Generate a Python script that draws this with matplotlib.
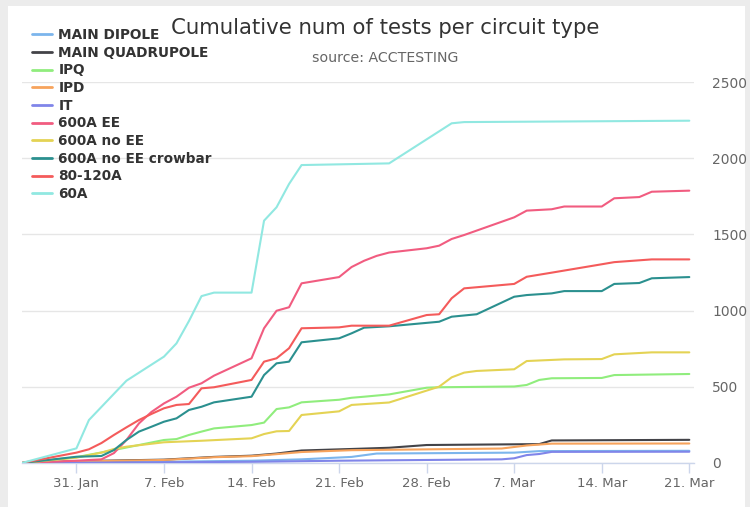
import matplotlib
matplotlib.use("Agg")
import matplotlib.pyplot as plt
import matplotlib.dates as mdates
from matplotlib.ticker import FuncFormatter, FixedLocator
import pandas as pd
import numpy as np

W, H = 750, 507
YEAR = "2022-"

title = "Cumulative num of tests per circuit type"
subtitle = "source: ACCTESTING"

names = ["MAIN DIPOLE", "MAIN QUADRUPOLE", "IPQ", "IPD", "IT", "600A EE",
         "600A no EE", "600A no EE crowbar", "80-120A", "60A"]
colors = ['#7cb5ec', '#434348', '#90ed7d', '#f7a35c', '#8085e9', '#f15c80',
          '#e4d354', '#2b908f', '#f45b5b', '#91e8e1']

md_dates = ["01-26 15:00", "02-07", "02-14", "02-18", "02-22", "02-24", "03-07", "03-09", "03-21"]
md_vals = [0, 8, 15, 24, 40, 62, 68, 78, 80]

mq_dates = ["01-26 15:00", "01-31", "02-07", "02-11", "02-14", "02-16", "02-18", "02-22", "02-25",
            "02-28", "03-09", "03-10", "03-21"]
mq_vals = [0, 12, 22, 40, 48, 62, 82, 92, 100, 118, 124, 148, 152]

ipd_dates = ["01-26 15:00", "01-31", "02-07", "02-11", "02-14", "02-16", "02-18", "02-22", "03-06",
             "03-08", "03-10", "03-21"]
ipd_vals = [0, 10, 20, 38, 45, 58, 72, 84, 95, 115, 127, 128]

it_dates = ["01-26 15:00", "02-14", "02-21", "03-06", "03-07", "03-08", "03-09", "03-10", "03-21"]
it_vals = [0, 8, 15, 24, 31, 52, 59, 73, 74]

ipq_dates = ["01-26 15:00", "01-31", "02-03", "02-07", "02-08", "02-09", "02-10", "02-11", "02-14",
             "02-15", "02-16", "02-17", "02-18", "02-21", "02-22", "02-23", "02-25", "02-28",
             "03-01", "03-07", "03-08", "03-09", "03-10", "03-14", "03-15", "03-21"]
ipq_vals = [0, 38, 85, 151, 157, 184, 206, 227, 249, 265, 354, 365, 398, 415, 428, 435, 450, 494,
            497, 502, 512, 545, 556, 558, 577, 584]

ee_dates = ["01-26 15:00", "01-31", "02-02", "02-03", "02-04", "02-05", "02-06", "02-07", "02-08",
            "02-09", "02-10", "02-11", "02-14", "02-15", "02-16", "02-17", "02-18", "02-21",
            "02-22", "02-23", "02-24", "02-25", "02-28", "03-01", "03-02", "03-03", "03-07",
            "03-08", "03-10", "03-11", "03-14", "03-15", "03-17", "03-18", "03-21"]
ee_vals = [0, 15, 24, 65, 151, 260, 335, 391, 435, 494, 523, 573, 687, 884, 999, 1022, 1179, 1220,
           1286, 1327, 1359, 1381, 1409, 1426, 1470, 1496, 1612, 1656, 1665, 1683, 1683, 1737,
           1745, 1780, 1787]

noee_dates = ["01-26 15:00", "01-31", "02-02", "02-03", "02-04", "02-07", "02-10", "02-14", "02-15",
              "02-16", "02-17", "02-18", "02-21", "02-22", "02-25", "03-01", "03-02", "03-03",
              "03-04", "03-07", "03-08", "03-11", "03-14", "03-15", "03-18", "03-21"]
noee_vals = [0, 35, 68, 92, 107, 136, 146, 162, 190, 208, 210, 315, 339, 381, 397, 501, 562, 593,
             604, 615, 669, 680, 682, 713, 726, 726]

crow_dates = ["01-26 15:00", "01-31", "02-02", "02-03", "02-04", "02-05", "02-06", "02-07", "02-08",
              "02-09", "02-10", "02-11", "02-14", "02-15", "02-16", "02-17", "02-18", "02-21",
              "02-22", "02-23", "02-25", "03-01", "03-02", "03-04", "03-07", "03-08", "03-10",
              "03-11", "03-14", "03-15", "03-17", "03-18", "03-21"]
crow_vals = [0, 41, 46, 85, 151, 206, 238, 271, 293, 348, 369, 398, 435, 577, 654, 665, 792, 818,
             851, 888, 897, 927, 960, 976, 1091, 1102, 1113, 1128, 1128, 1175, 1181, 1212, 1220]

a80_dates = ["01-26 15:00", "01-31", "02-01", "02-02", "02-03", "02-04", "02-05", "02-06", "02-07",
             "02-08", "02-09", "02-10", "02-11", "02-14", "02-15", "02-16", "02-17", "02-18",
             "02-21", "02-22", "02-25", "02-28", "03-01", "03-02", "03-03", "03-07", "03-08",
             "03-10", "03-14", "03-15", "03-18", "03-21"]
a80_vals = [0, 68, 90, 131, 184, 234, 282, 322, 359, 381, 387, 490, 497, 545, 665, 687, 753, 884,
            890, 901, 901, 971, 976, 1081, 1146, 1175, 1222, 1249, 1304, 1318, 1336, 1336]

a60_dates = ["01-26 15:00", "01-31", "02-01", "02-04", "02-07", "02-08", "02-09", "02-10", "02-11",
             "02-14", "02-15", "02-16", "02-17", "02-18", "02-25", "03-02", "03-03", "03-21"]
a60_vals = [0, 96, 282, 540, 698, 785, 932, 1095, 1118, 1118, 1590, 1678, 1831, 1955, 1966, 2229,
            2237, 2246]

series_dates = [md_dates, mq_dates, ipq_dates, ipd_dates, it_dates, ee_dates, noee_dates,
                crow_dates, a80_dates, a60_dates]
series_vals = [md_vals, mq_vals, ipq_vals, ipd_vals, it_vals, ee_vals, noee_vals, crow_vals,
               a80_vals, a60_vals]

x_ticks = ["01-31", "02-07", "02-14", "02-21", "02-28", "03-07", "03-14", "03-21"]
y_ticks = [0, 500, 1000, 1500, 2000, 2500]


def to_dt(lst):
    return pd.to_datetime([YEAR + s for s in lst], format='mixed')


fig = plt.figure(figsize=(W / 100, H / 100), dpi=100)
fig.patch.set_facecolor('#ececec')
card = plt.Rectangle((8 / W, 0), (745 - 8) / W, 1 - 6 / H, transform=fig.transFigure,
                     facecolor='white', edgecolor='none', zorder=-10)
fig.add_artist(card)

L, R, T, B = 21.7, 694, 82, 463
ax = fig.add_axes([L / W, 1 - B / H, (R - L) / W, (B - T) / H], zorder=5)
ax.set_facecolor('none')

for n, c, d, v in zip(names, colors, series_dates, series_vals):
    ax.plot(to_dt(d), v, color=c, lw=1.5, label=n, solid_joinstyle='round',
            solid_capstyle='round', zorder=3)

ax.set_ylim(0, 2500)
x0 = pd.Timestamp(YEAR + "01-26 15:00")
x1 = pd.Timestamp(YEAR + "03-21 09:00")
ax.set_xlim(x0, x1)

ax.yaxis.set_major_locator(FixedLocator(y_ticks))
ax.xaxis.set_major_locator(FixedLocator(mdates.date2num(to_dt(x_ticks))))
ax.xaxis.set_major_formatter(FuncFormatter(
    lambda x, p: f"{mdates.num2date(x).day}. {mdates.num2date(x).strftime('%b')}"))

ax.grid(axis='y', color='#e6e6e6', lw=1, zorder=0)
ax.grid(axis='x', visible=False)
for s in ['top', 'left', 'right']:
    ax.spines[s].set_visible(False)
ax.spines['bottom'].set_color('#ccd6eb')
ax.spines['bottom'].set_linewidth(1)

ax.yaxis.tick_right()
ax.tick_params(axis='y', which='both', length=0, pad=13, labelsize=10, labelcolor='#666666')
ax.tick_params(axis='x', length=7, width=1, color='#ccd6eb', pad=3, labelsize=9.5,
               labelcolor='#666666')

fig.text(385 / W, 1 - 28.5 / H, title, ha='center', va='center', fontsize=15.3, color='#333333')
fig.text(385 / W, 1 - 58 / H, subtitle, ha='center', va='center', fontsize=10.2, color='#666666')

leg = fig.legend(loc='upper left', bbox_to_anchor=(31.7 / W, 1 - 28 / H), frameon=False,
                 prop={'weight': 'bold', 'size': 9.8}, labelcolor='#333333',
                 handlelength=1.47, handletextpad=0.49, labelspacing=0.27, borderaxespad=0,
                 borderpad=0)
leg.set_zorder(10)
for h in leg.get_lines():
    h.set_linewidth(2)

fig.savefig("out.png", dpi=100, facecolor=fig.get_facecolor())
